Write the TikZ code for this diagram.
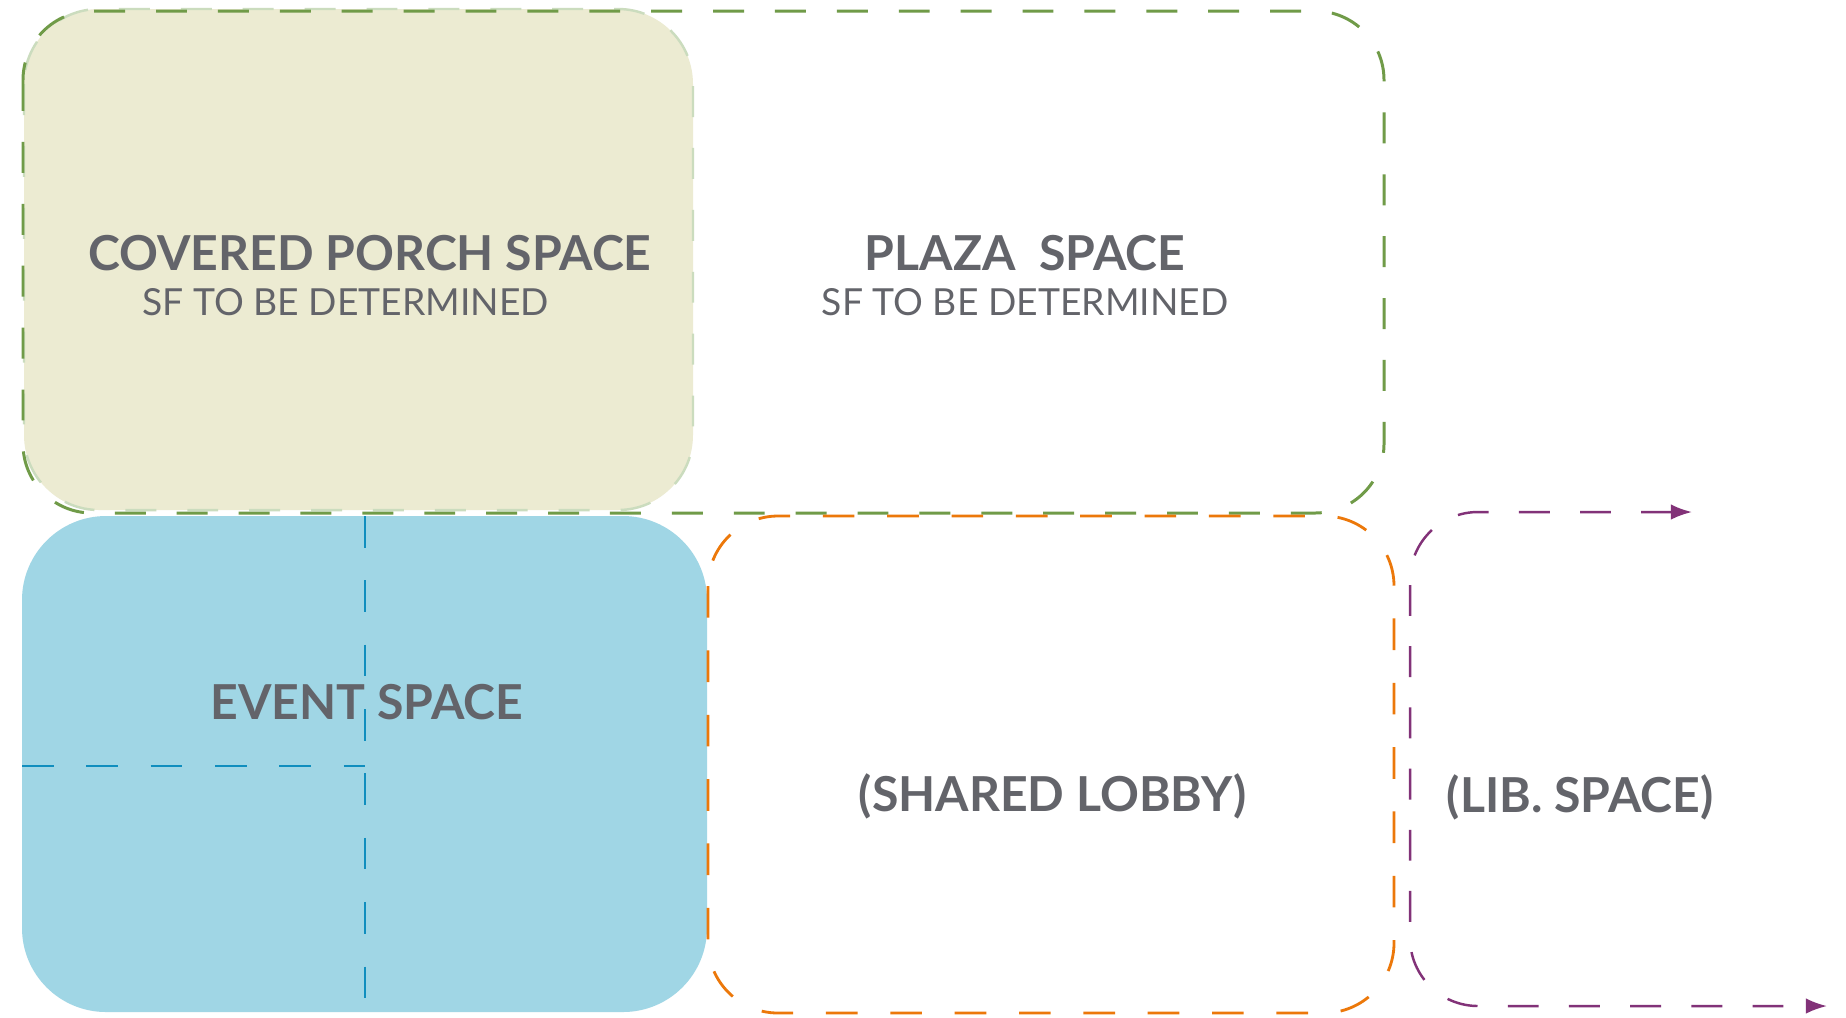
\documentclass[tikz,border=0pt]{standalone}
\usepackage{fontspec}
\setmainfont{Lato}
\usetikzlibrary{arrows.meta}
\definecolor{porchfill}{RGB}{236,235,210}
\definecolor{porchedge}{RGB}{203,220,190}
\definecolor{plazagreen}{RGB}{112,155,72}
\definecolor{eventfill}{RGB}{160,214,229}
\definecolor{eventline}{RGB}{16,142,190}
\definecolor{lobbyorange}{RGB}{236,120,10}
\definecolor{libpurple}{RGB}{130,50,120}
\definecolor{labelgrey}{RGB}{99,100,106}
\begin{document}
\begin{tikzpicture}[x=0.01cm,y=-0.01cm,
  titletext/.style={font=\bfseries\fontsize{13.7}{16}\selectfont, text=labelgrey, inner sep=0pt, anchor=base},
  subtext/.style={font=\fontsize{10.6}{12}\selectfont, text=labelgrey, inner sep=0pt, anchor=base},
  greenedge/.style={draw=plazagreen, line width=0.85pt, dash pattern=on 8.8pt off 8.8pt},
  porchline/.style={draw=porchedge, line width=0.7pt, dash pattern=on 8.8pt off 8.8pt},
  blueline/.style={draw=eventline, line width=0.75pt, dash pattern=on 9pt off 9.3pt},
  orangeedge/.style={draw=lobbyorange, line width=0.8pt, dash pattern=on 9pt off 9.3pt},
  purpleedge/.style={draw=libpurple, line width=0.7pt, dash pattern=on 8.8pt off 8.6pt},
]
\useasboundingbox (0,0) rectangle (1846,1017);
\fill[white] (0,0) rectangle (1846,1017);

% covered porch
\path[fill=porchfill, porchline, rounded corners=0.75cm] (24,9) rectangle (693,510);
% plaza (green dashed outline around porch and plaza)
\path[greenedge, rounded corners=0.69cm] (23,11) rectangle (1384,513);

% event space
\fill[eventfill, rounded corners=0.84cm] (22,516) rectangle (707,1012);
\coordinate (evtop) at (365,516);
\coordinate (evbot) at (365,1017);
\coordinate (evleft) at (22,766);
\coordinate (evmid) at (365,766);
\draw[blueline] (evtop) -- (evbot);
\draw[blueline] (evleft) -- (evmid);

% shared lobby
\path[orangeedge, rounded corners=0.7cm] (708,516) rectangle (1394,1013);

% lib space
\coordinate (libtop) at (1692,512);
\coordinate (libtl) at (1410,512);
\coordinate (libbl) at (1410,1006);
\coordinate (libbot) at (1827,1006);
\draw[purpleedge, rounded corners=0.68cm,
  {Latex[length=6pt,width=4.4pt]}-{Latex[length=6pt,width=4.4pt]}]
  (libtop) -- (libtl) -- (libbl) -- (libbot);

% labels
\node[titletext] (porchtitle) at (370,270) {COVERED PORCH SPACE};
\node[subtext] (porchsf) at (345.5,315) {SF TO BE DETERMINED};
\node[titletext] (plazatitle) at (1025,270) {PLAZA\ \ SPACE};
\node[subtext] (plazasf) at (1025,315) {SF TO BE DETERMINED};
\node[titletext] (eventtitle) at (367,719) {EVENT SPACE};
\node[titletext] (lobbytitle) at (1052.5,811) {(SHARED LOBBY)};
\node[titletext] (libtitle) at (1580,812) {(LIB. SPACE)};
\end{tikzpicture}
\end{document}
